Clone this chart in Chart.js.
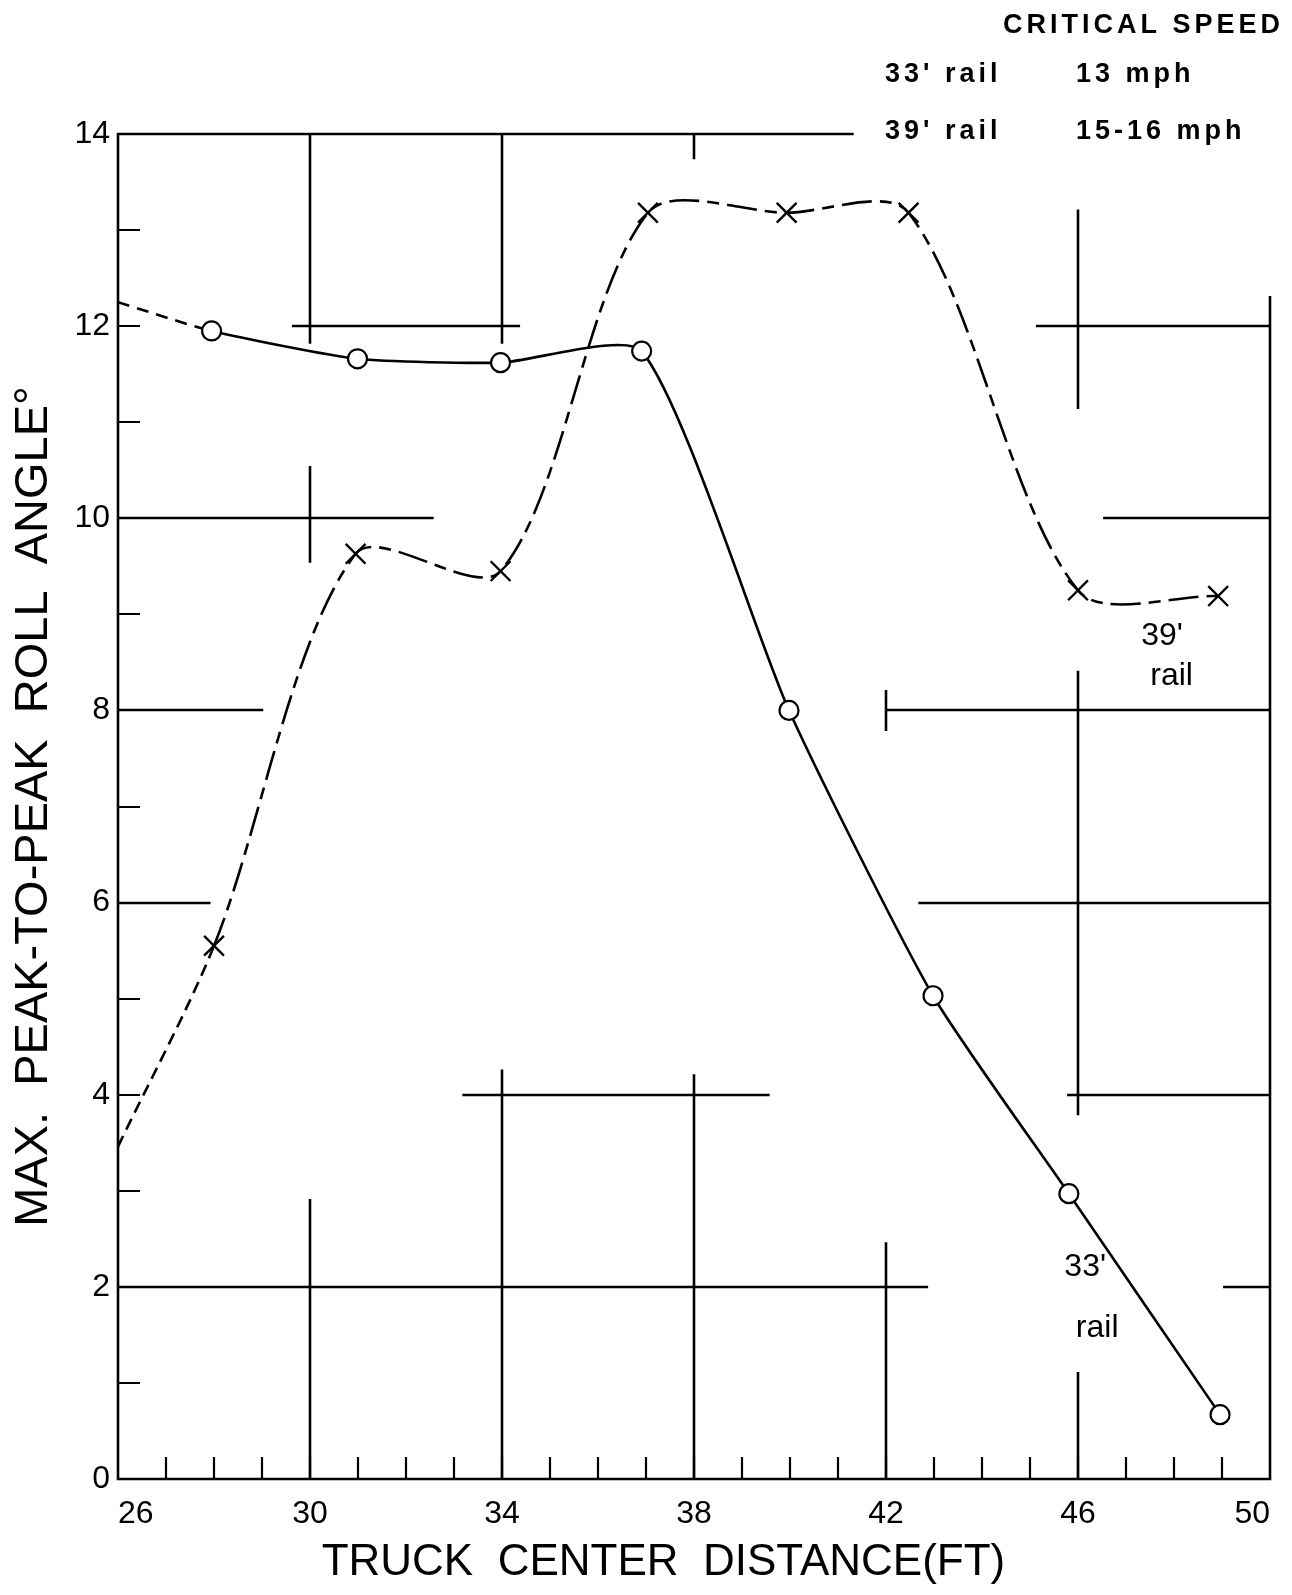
<!DOCTYPE html>
<html lang="en">
<head>
  <meta charset="UTF-8">
  <title>Max. peak-to-peak roll angle vs truck center distance</title>
  <script src="https://cdn.jsdelivr.net/npm/chart.js"></script>
  <style>
    html, body { margin: 0; padding: 0; background: #fff; }
    #rollChart { display: block; }
  </style>
</head>
<body>
  <canvas id="rollChart" width="1292" height="1595"></canvas>

  <script>
    // 33' rail, open circles (first value is where the dashed lead-in meets the axis)
    const distance33 = [26, 27.95, 30.99, 33.97, 36.91, 39.98, 42.98, 45.81, 48.96];
    const roll33 = [12.25, 11.95, 11.66, 11.62, 11.74, 8.0, 5.03, 2.97, 0.67];

    // 39' rail, crosses
    const distance39 = [26, 28.0, 30.95, 33.97, 37.04, 39.93, 42.47, 46.0, 48.92];
    const roll39 = [3.46, 5.55, 9.63, 9.45, 13.18, 13.18, 13.18, 9.25, 9.19];

    const xTickLabels = [26, 30, 34, 38, 42, 46, 50];
    const yTickLabels = [0, 2, 4, 6, 8, 10, 12, 14];

    const criticalRails = ["33' rail", "39' rail"];
    const criticalSpeeds = ['13 mph', '15-16 mph'];

    // pieces of the graph paper grid that show in the scan, in axis units
    // horizontal: [y, xFrom, xTo]
    const gridH = [
      [14, 26, 41.3],
      [12, 29.65, 34.35], [12, 45.15, 50],
      [10, 26, 32.55], [10, 46.55, 50],
      [8, 26, 29.0], [8, 42.0, 50],
      [6, 26, 27.9], [6, 42.7, 50],
      [4, 33.2, 39.55], [4, 45.8, 50],
      [2, 26, 42.85], [2, 49.05, 50],
      [0, 26, 50]
    ];
    // vertical: [x, yFrom, yTo]
    const gridV = [
      [26, 0, 14],
      [30, 11.83, 14], [30, 9.55, 10.53], [30, 0, 2.9],
      [34, 11.83, 14], [34, 0, 4.25],
      [38, 13.75, 14], [38, 0, 4.2],
      [42, 7.8, 8.2], [42, 0, 2.45],
      [46, 11.15, 13.2], [46, 3.8, 8.4], [46, 0, 1.1],
      [50, 0, 12.3]
    ];

    const FONT = '"Liberation Sans", Arial, sans-serif';

    function toPoints(xs, ys) {
      return xs.map((x, i) => ({ x: x, y: ys[i] }));
    }

    const paperGrid = {
      id: 'paperGrid',
      beforeDatasetsDraw(chart) {
        const { ctx, scales: { x, y } } = chart;
        ctx.save();
        ctx.strokeStyle = '#000';
        ctx.lineCap = 'square';
        ctx.lineWidth = 2.6;
        ctx.beginPath();
        gridH.forEach(([v, a, b]) => {
          const py = Math.round(y.getPixelForValue(v));
          ctx.moveTo(x.getPixelForValue(a), py);
          ctx.lineTo(x.getPixelForValue(b), py);
        });
        gridV.forEach(([v, a, b]) => {
          const px = Math.round(x.getPixelForValue(v));
          ctx.moveTo(px, y.getPixelForValue(a));
          ctx.lineTo(px, y.getPixelForValue(b));
        });
        ctx.stroke();

        // short inward ticks every unit
        ctx.lineWidth = 2.2;
        ctx.lineCap = 'butt';
        ctx.beginPath();
        const bottom = y.getPixelForValue(0);
        for (let v = 27; v < 50; v++) {
          const px = Math.round(x.getPixelForValue(v));
          ctx.moveTo(px, bottom);
          ctx.lineTo(px, bottom - 22);
        }
        const left = x.getPixelForValue(26);
        for (let v = 1; v < 14; v++) {
          const py = Math.round(y.getPixelForValue(v));
          ctx.moveTo(left, py);
          ctx.lineTo(left + 22, py);
        }
        ctx.stroke();
        ctx.restore();
      }
    };

    const notes = {
      id: 'notes',
      afterDraw(chart) {
        const { ctx, scales: { x, y } } = chart;
        ctx.save();
        ctx.fillStyle = '#000';
        ctx.textBaseline = 'middle';

        // critical speed table, top right
        ctx.font = 'bold 27px ' + FONT;
        ctx.textAlign = 'right';
        ctx.letterSpacing = '4px';
        ctx.fillText('CRITICAL SPEED', 1284, 26);
        ctx.textAlign = 'left';
        ctx.letterSpacing = '4px';
        criticalRails.forEach((r, i) => {
          ctx.fillText(r, 885, 75 + i * 57);
          ctx.fillText(criticalSpeeds[i], 1076, 75 + i * 57);
        });
        ctx.letterSpacing = '0px';

        // curve labels
        ctx.font = '32px ' + FONT;
        ctx.textAlign = 'center';
        ctx.fillText("39'", x.getPixelForValue(47.75), y.getPixelForValue(8.77));
        ctx.fillText('rail', x.getPixelForValue(47.95), y.getPixelForValue(8.36));
        ctx.fillText("33'", x.getPixelForValue(46.15), y.getPixelForValue(2.2));
        ctx.fillText('rail', x.getPixelForValue(46.4), y.getPixelForValue(1.57));
        ctx.restore();
      }
    };

    new Chart(document.getElementById('rollChart'), {
      type: 'line',
      data: {
        datasets: [
          {
            label: "33' rail",
            data: toPoints(distance33, roll33),
            borderColor: '#000',
            borderWidth: 2.6,
            tension: 0.2,
            pointStyle: 'circle',
            pointRadius: ctx => ctx.dataIndex === 0 ? 0 : 9.5,
            pointBackgroundColor: '#fff',
            pointBorderColor: '#000',
            pointBorderWidth: 2.2,
            segment: {
              borderDash: ctx => ctx.p0DataIndex === 0 ? [12, 8] : undefined
            }
          },
          {
            label: "39' rail",
            data: toPoints(distance39, roll39),
            borderColor: '#000',
            borderWidth: 2.6,
            borderDash: [30, 8, 12, 8],
            tension: 0.3,
            pointStyle: 'crossRot',
            pointRadius: ctx => ctx.dataIndex === 0 ? 0 : 14,
            pointBorderColor: '#000',
            pointBorderWidth: 2.4,
            segment: {
              borderDash: ctx => ctx.p0DataIndex === 0 ? [12, 7] : undefined
            }
          }
        ]
      },
      options: {
        responsive: false,
        devicePixelRatio: 1,
        animation: false,
        events: [],
        layout: { padding: { top: 134, right: 22, left: 0, bottom: 0 } },
        plugins: {
          legend: { display: false },
          tooltip: { enabled: false }
        },
        scales: {
          x: {
            type: 'linear',
            min: 26,
            max: 50,
            grid: { display: false, drawTicks: false },
            border: { display: false },
            ticks: {
              stepSize: 1,
              autoSkip: false,
              maxTicksLimit: 100,
              maxRotation: 0,
              align: 'inner',
              padding: 16,
              color: '#000',
              font: { family: FONT, size: 32 },
              callback: v => xTickLabels.includes(v) ? String(v) : ''
            },
            title: {
              display: true,
              // trailing spaces nudge the centred title left, as in the scan
              text: 'TRUCK  CENTER  DISTANCE(FT)     ',
              color: '#000',
              font: { family: FONT, size: 44 },
              padding: { top: 0, bottom: 6 }
            },
            afterFit: s => { s.height = 116; }
          },
          y: {
            min: 0,
            max: 14,
            grid: { display: false, drawTicks: false },
            border: { display: false },
            ticks: {
              stepSize: 1,
              autoSkip: false,
              maxTicksLimit: 100,
              padding: 8,
              color: '#000',
              font: { family: FONT, size: 32 },
              callback: v => yTickLabels.includes(v) ? String(v) : ''
            },
            title: {
              display: true,
              text: 'MAX.  PEAK-TO-PEAK  ROLL  ANGLE°',
              color: '#000',
              font: { family: FONT, size: 47 },
              padding: { top: 6, bottom: 0 }
            },
            afterFit: s => { s.width = 118; }
          }
        }
      },
      plugins: [paperGrid, notes]
    });
  </script>
</body>
</html>
